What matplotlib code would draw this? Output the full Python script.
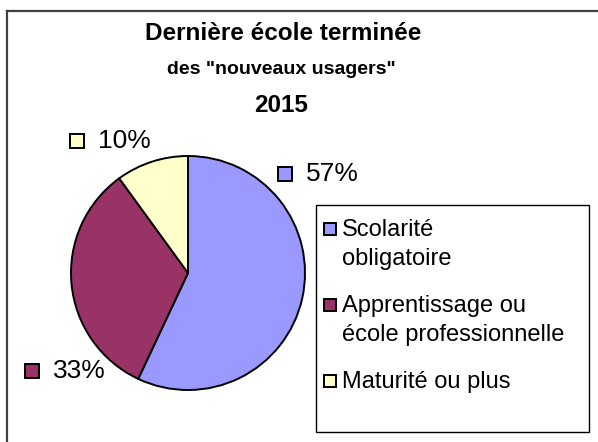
import matplotlib
matplotlib.use("Agg")
import matplotlib.pyplot as plt
from matplotlib.patches import Rectangle
from matplotlib.lines import Line2D

plt.rcParams['font.family'] = ['Liberation Sans', 'DejaVu Sans']

# data
categories = ["Scolarité\nobligatoire", "Apprentissage ou\nécole professionnelle", "Maturité ou plus"]
values = [57, 33, 10]
colors = ["#9999FF", "#993366", "#FFFFCC"]
title_lines = ["Dernière école terminée", 'des "nouveaux usagers"', "2015"]

W, H = 598, 442
fig = plt.figure(figsize=(W / 100, H / 100), dpi=100)


def fx(px):
    return px / W


def fy(py):
    return 1 - py / H


# outer frame (cut off at right and bottom)
fig.add_artist(Line2D([fx(7), fx(7)], [fy(11), fy(H + 5)], color="#404040", lw=1.6))
fig.add_artist(Line2D([fx(7), fx(W + 5)], [fy(11), fy(11)], color="#404040", lw=1.6))

# title
fig.text(fx(283), fy(34), title_lines[0], ha="center", va="center", fontsize=17.5, fontweight="bold")
fig.text(fx(281), fy(69), title_lines[1], ha="center", va="center", fontsize=14, fontweight="bold")
fig.text(fx(281), fy(105), title_lines[2], ha="center", va="center", fontsize=17.5, fontweight="bold")

# pie
cx, cy, r = 188, 273, 117
ax = fig.add_axes([fx(cx - r), fy(cy + r), 2 * r / W, 2 * r / H])
ax.pie(values, colors=colors, startangle=90, counterclock=False,
       wedgeprops=dict(edgecolor="black", linewidth=1.4))
ax.set_xlim(-1.0, 1.0)
ax.set_ylim(-1.0, 1.0)
ax.set_aspect("auto")
ax.axis("off")

# data labels (marker square + percentage)
label_pos = [(285, 174), (32, 371), (77, 141)]
for (px, py), v, c in zip(label_pos, values, colors):
    fig.add_artist(Rectangle((fx(px - 7), fy(py + 7)), 14 / W, 14 / H, facecolor=c,
                             edgecolor="black", lw=1.4, transform=fig.transFigure))
    fig.text(fx(px + 21), fy(py), f"{v}%", ha="left", va="center", fontsize=19)

# legend box
fig.add_artist(Rectangle((fx(316), fy(432)), (589 - 316) / W, (432 - 205) / H,
                         facecolor="white", edgecolor="black", lw=1.0,
                         transform=fig.transFigure))
legend_y = [229, 305, 381]
for ly, lab, c in zip(legend_y, categories, colors):
    fig.add_artist(Rectangle((fx(324), fy(ly + 6)), 12 / W, 12 / H, facecolor=c,
                             edgecolor="black", lw=1.4, transform=fig.transFigure))
    fig.text(fx(342), fy(ly - 10), lab, ha="left", va="top", fontsize=17,
             linespacing=1.4)

fig.savefig("out.png", dpi=100)
